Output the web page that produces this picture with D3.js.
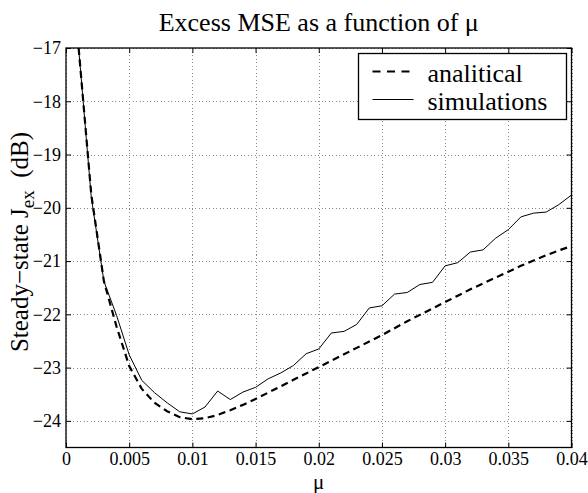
<!DOCTYPE HTML>
<html>
<head>
<meta charset="utf-8">
<title>Excess MSE as a function of mu</title>
<script type="text/javascript" src="https://cdn.jsdelivr.net/npm/d3@7/dist/d3.min.js"></script>
<style>
body{
    margin:0;
    background:#fff;
}
#chart, #chart text{
    font-family:"Liberation Serif","Times New Roman",serif !important;
    fill:#000;
}
</style>
</head>
<body>
<svg id="chart" width="588" height="493"></svg>
<script>
// step sizes mu
var mu = [0.001, 0.002, 0.003, 0.004, 0.005, 0.006, 0.007, 0.008, 0.009, 0.010,
          0.011, 0.012, 0.013, 0.014, 0.015, 0.016, 0.017, 0.018, 0.019, 0.020,
          0.021, 0.022, 0.023, 0.024, 0.025, 0.026, 0.027, 0.028, 0.029, 0.030,
          0.031, 0.032, 0.033, 0.034, 0.035, 0.036, 0.037, 0.038, 0.039, 0.040];

// steady-state excess MSE (dB)
var analitical = [-17.0, -19.75, -21.38, -22.23, -22.97, -23.40, -23.66, -23.82, -23.93, -23.97,
                  -23.95, -23.89, -23.80, -23.70, -23.59, -23.47, -23.35, -23.23, -23.11, -22.99,
                  -22.87, -22.75, -22.63, -22.51, -22.39, -22.26, -22.13, -22.01, -21.89, -21.77,
                  -21.65, -21.53, -21.42, -21.31, -21.20, -21.09, -20.99, -20.89, -20.80, -20.72];

var simulations = [-17.0, -19.8, -21.38, -22.02, -22.76, -23.24, -23.47, -23.66, -23.83, -23.87,
                   -23.74, -23.44, -23.60, -23.46, -23.37, -23.21, -23.10, -22.96, -22.74, -22.65,
                   -22.35, -22.32, -22.19, -21.88, -21.84, -21.62, -21.59, -21.44, -21.40, -21.09,
                   -21.03, -20.83, -20.79, -20.57, -20.41, -20.17, -20.10, -20.08, -19.94, -19.76];

var xTicks = [0, 0.005, 0.01, 0.015, 0.02, 0.025, 0.03, 0.035, 0.04];
var xTickLabels = ["0", "0.005", "0.01", "0.015", "0.02", "0.025", "0.03", "0.035", "0.04"];
var yTicks = [-24, -23, -22, -21, -20, -19, -18, -17];
var yTickLabels = ["\u221224", "\u221223", "\u221222", "\u221221", "\u221220", "\u221219", "\u221218", "\u221217"];

var legendNames = ["analitical", "simulations"];

// axes box (window.top is read-only, so no bare "top")
var box = {l: 66, r: 571.5, t: 48, b: 447.5};
var serif = '"Liberation Serif","Times New Roman",serif';

var x = d3.scaleLinear().domain([0, 0.04]).range([box.l, box.r]);
var y = d3.scaleLinear().domain([-24.5, -17]).range([box.b, box.t]);

var svg = d3.select("#chart");

// dotted grid
var grid = svg.append("g").attr("stroke", "#8a8a8a").attr("stroke-width", 1)
              .attr("stroke-dasharray", "1,2.5").attr("shape-rendering", "crispEdges");
grid.selectAll("line.gx").data(xTicks).enter().append("line")
    .attr("x1", function(d){ return Math.round(x(d)) + 0.5; })
    .attr("x2", function(d){ return Math.round(x(d)) + 0.5; })
    .attr("y1", box.t).attr("y2", box.b);
grid.selectAll("line.gy").data(yTicks).enter().append("line")
    .attr("y1", function(d){ return Math.round(y(d)) + 0.5; })
    .attr("y2", function(d){ return Math.round(y(d)) + 0.5; })
    .attr("x1", box.l).attr("x2", box.r);

// curves, clipped to the axes box
svg.append("clipPath").attr("id", "plotclip").append("rect")
   .attr("x", box.l).attr("y", box.t).attr("width", box.r - box.l).attr("height", box.b - box.t);

var lineFunction = function(vals){
    return d3.line()
        .x(function(d, i){ return x(mu[i]); })
        .y(function(d){ return y(d); })(vals);
};

var curves = svg.append("g").attr("clip-path", "url(#plotclip)").attr("fill", "none");
curves.append("path").attr("d", lineFunction(simulations))
      .attr("stroke", "#000").attr("stroke-width", 1);
curves.append("path").attr("d", lineFunction(analitical))
      .attr("stroke", "#000").attr("stroke-width", 2.2).attr("stroke-dasharray", "7,4.5");

// axes with inward ticks on all four sides
var fmtX = function(d){ return xTickLabels[xTicks.indexOf(d)]; };
var fmtY = function(d){ return yTickLabels[yTicks.indexOf(d)]; };

var gB = svg.append("g").attr("transform", "translate(0," + box.b + ")")
    .call(d3.axisBottom(x).tickValues(xTicks).tickFormat(fmtX).tickSizeInner(-5).tickSizeOuter(0).tickPadding(5));
var gL = svg.append("g").attr("transform", "translate(" + box.l + ",0)")
    .call(d3.axisLeft(y).tickValues(yTicks).tickFormat(fmtY).tickSizeInner(-5).tickSizeOuter(0).tickPadding(5));
var gT = svg.append("g").attr("transform", "translate(0," + box.t + ")")
    .call(d3.axisTop(x).tickValues(xTicks).tickFormat("").tickSizeInner(-5).tickSizeOuter(0));
var gR = svg.append("g").attr("transform", "translate(" + box.r + ",0)")
    .call(d3.axisRight(y).tickValues(yTicks).tickFormat("").tickSizeInner(-5).tickSizeOuter(0));

[gB, gL, gT, gR].forEach(function(g){
    g.attr("font-family", serif).attr("font-size", 18);
    g.select(".domain").remove();
    g.selectAll("line").attr("stroke", "#000");
    g.selectAll("text").style("font-family", serif).style("font-size", "18px");
});

svg.append("rect").attr("x", box.l).attr("y", box.t)
   .attr("width", box.r - box.l).attr("height", box.b - box.t)
   .attr("fill", "none").attr("stroke", "#000").attr("stroke-width", 1.3);

// legend
var lg = svg.append("g").attr("transform", "translate(358.5,53.5)");
lg.append("rect").attr("width", 208).attr("height", 66)
  .attr("fill", "#fff").attr("stroke", "#000").attr("stroke-width", 1.3);
lg.append("line").attr("x1", 14).attr("x2", 55).attr("y1", 18).attr("y2", 18)
  .attr("stroke", "#000").attr("stroke-width", 2.2).attr("stroke-dasharray", "8,6.5");
lg.append("line").attr("x1", 14).attr("x2", 55).attr("y1", 46).attr("y2", 46)
  .attr("stroke", "#000").attr("stroke-width", 1);
lg.selectAll("text").data(legendNames).enter().append("text")
  .attr("x", 69).attr("y", function(d, i){ return 28 + i * 28.5; })
  .style("font-family", serif).style("font-size", "26px").text(function(d){ return d; });

// title and labels
svg.append("text").attr("x", (box.l + box.r) / 2).attr("y", 31)
   .attr("text-anchor", "middle").style("font-family", serif).style("font-size", "26px")
   .text("Excess MSE as a function of \u03bc");

svg.append("text").attr("x", (box.l + box.r) / 2).attr("y", 488.5)
   .attr("text-anchor", "middle").style("font-family", serif).style("font-size", "21px").text("\u03bc");

var yl = svg.append("text").attr("transform", "translate(28,242) rotate(-90)")
   .attr("text-anchor", "middle").style("font-family", serif).style("font-size", "25px");
yl.append("tspan").text("Steady\u2212state J");
yl.append("tspan").attr("dy", 6).style("font-size", "19px").text("ex");
yl.append("tspan").attr("dy", -6).text("\u00a0\u00a0(dB)");
</script>
</body>
</html>
